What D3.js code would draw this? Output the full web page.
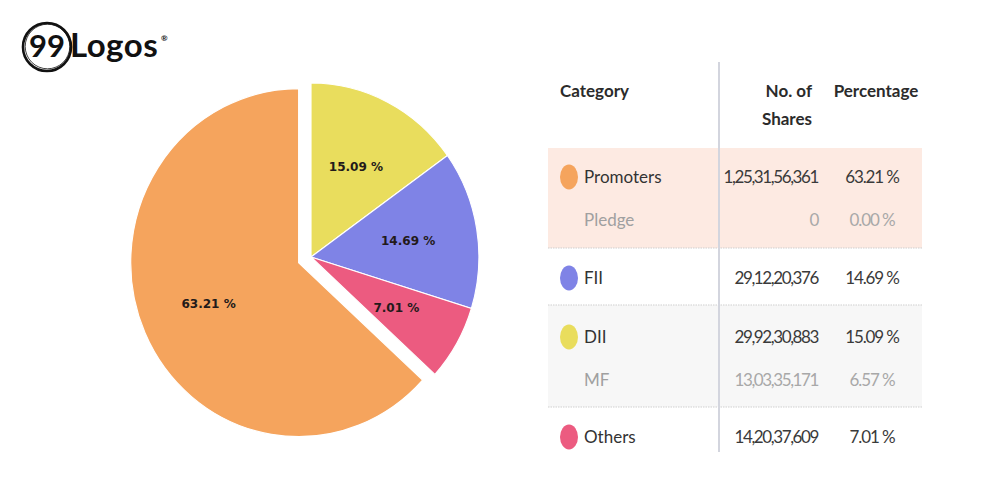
<!DOCTYPE html>
<html><head><meta charset="utf-8">
<script src="https://cdn.jsdelivr.net/npm/d3@7"></script>
<style>html,body{margin:0;padding:0;background:#fff;}svg{display:block;}</style>
</head><body>
<svg id="chart" width="1000" height="500"></svg>
<script>
// ---- data ----
const sliceNames = ["DII", "FII", "Others", "Promoters"];
const sliceValues = [15.09, 14.69, 7.01, 63.21];
const sliceColors = ["#E9DD5D", "#7F83E6", "#EC5B80", "#F5A45D"];
const explodedSlice = "Promoters";

const headerLabels = ["Category", "No. of", "Shares", "Percentage"];
const rowLabels = ["Promoters", "Pledge", "FII", "DII", "MF", "Others"];
const rowShares = ["1,25,31,56,361", "0", "29,12,20,376", "29,92,30,883", "13,03,35,171", "14,20,37,609"];
const rowPercents = [63.21, 0.00, 14.69, 15.09, 6.57, 7.01];
const rowIsSub = [false, true, false, false, true, false];
const rowColorKey = ["Promoters", null, "FII", "DII", null, "Others"];

// ---- drawing ----
const svg = d3.select("#chart");
const colorOf = d3.scaleOrdinal().domain(sliceNames).range(sliceColors);

// Logo
const logo = svg.append("g");
logo.append("circle").attr("cx", 47).attr("cy", 47).attr("r", 24)
  .attr("fill", "none").attr("stroke", "#111").attr("stroke-width", 2.6);
logo.append("circle").attr("cx", 47.5).attr("cy", 46.5).attr("r", 22.3)
  .attr("fill", "none").attr("stroke", "#111").attr("stroke-width", 0.8);
logo.append("text").attr("x", 47).attr("y", 57).attr("text-anchor", "middle")
  .attr("font-family", "Lato").attr("font-weight", 700).attr("font-size", 31)
  .attr("fill", "#111").text("99");
logo.append("text").attr("x", 70).attr("y", 57)
  .attr("font-family", "Lato").attr("font-weight", 700).attr("font-size", 33)
  .attr("letter-spacing", "0.5px").attr("fill", "#111").text("Logos");
logo.append("text").attr("x", 161).attr("y", 41)
  .attr("font-family", "Lato").attr("font-weight", 700).attr("font-size", 8)
  .attr("fill", "#111").text("®");

// Pie
const cx = 311, cy = 257, R = 174, explode = 14, labelR = 102;
const pie = d3.pie().sort(null).value(d => d.value).startAngle(0).endAngle(2 * Math.PI);
const arcs = pie(sliceNames.map((n, i) => ({ name: n, value: sliceValues[i] })));
const arc = d3.arc().innerRadius(0).outerRadius(R);
const labelArc = d3.arc().innerRadius(labelR).outerRadius(labelR);

const pg = svg.append("g").attr("transform", `translate(${cx},${cy}) scale(0.965,1)`);
function offset(d) {
  if (d.data.name !== explodedSlice) return [0, 0];
  const a = (d.startAngle + d.endAngle) / 2;
  return [Math.sin(a) * explode, -Math.cos(a) * explode];
}
const sg = pg.selectAll("g.slice").data(arcs).join("g").attr("class", "slice")
  .attr("transform", d => { const o = offset(d); return `translate(${o[0]},${o[1]})`; });
sg.append("path").attr("d", arc).attr("fill", d => colorOf(d.data.name))
  .attr("stroke", "#fff").attr("stroke-width", 1.2);
sg.append("text")
  .attr("transform", d => `translate(${labelArc.centroid(d)})`)
  .attr("text-anchor", "middle").attr("dy", "0.35em")
  .attr("font-family", "DejaVu Sans").attr("font-weight", 700).attr("font-size", 12.5)
  .attr("fill", "#231a1a")
  .text(d => d.data.value.toFixed(2) + " %");

// Table
const tx0 = 548, tx1 = 922, divX = 719;
const t = svg.append("g");
const groups = [[148, 248, "#FDEAE2"], [248, 305, "#FFFFFF"], [305, 407, "#F7F7F7"], [407, 452, "#FFFFFF"]];
t.selectAll("rect.grp").data(groups).join("rect").attr("class", "grp")
  .attr("x", tx0).attr("y", d => d[0]).attr("width", tx1 - tx0).attr("height", d => d[1] - d[0])
  .attr("fill", d => d[2]);
t.selectAll("line.sep").data([248, 305, 407]).join("line").attr("class", "sep")
  .attr("x1", tx0).attr("x2", tx1).attr("y1", d => d).attr("y2", d => d)
  .attr("stroke", "#cfcfcf").attr("stroke-width", 1).attr("stroke-dasharray", "1.5,1");
t.append("line").attr("x1", divX).attr("x2", divX).attr("y1", 62).attr("y2", 452)
  .attr("stroke", "#d3d5de").attr("stroke-width", 2);

const hdr = t.append("g").attr("font-family", "Lato").attr("font-weight", 700)
  .attr("font-size", 17).attr("fill", "#2b2b2b");
hdr.append("text").attr("x", 560).attr("y", 97).text(headerLabels[0]);
hdr.append("text").attr("x", 812).attr("y", 97).attr("text-anchor", "end").text(headerLabels[1]);
hdr.append("text").attr("x", 812).attr("y", 125).attr("text-anchor", "end").text(headerLabels[2]);
hdr.append("text").attr("x", 876).attr("y", 97).attr("text-anchor", "middle").text(headerLabels[3]);

const rowCenters = [177, 220, 278, 337, 380, 437];
const rows = t.selectAll("g.row").data(rowLabels.map((l, i) => ({
  label: l, shares: rowShares[i], pct: rowPercents[i], sub: rowIsSub[i], key: rowColorKey[i], y: rowCenters[i]
}))).join("g").attr("class", "row").attr("transform", d => `translate(0,${d.y})`);

rows.filter(d => d.key).append("ellipse").attr("cx", 569).attr("cy", 0).attr("rx", 9).attr("ry", 12.5)
  .attr("fill", d => colorOf(d.key));
rows.append("text").attr("x", 584).attr("dy", "0.36em")
  .attr("font-family", "Lato").attr("font-size", 17)
  .attr("fill", d => d.sub ? "#a0a0a0" : "#333").text(d => d.label);
rows.append("text").attr("x", 818).attr("dy", "0.36em").attr("text-anchor", "end")
  .attr("font-family", "Lato").attr("font-size", 17).attr("letter-spacing", "-1.4px")
  .attr("fill", d => d.sub ? "#a8a8a8" : "#3a3a3a").text(d => d.shares);
rows.append("text").attr("x", 872).attr("dy", "0.36em").attr("text-anchor", "middle")
  .attr("font-family", "Lato").attr("font-size", 17).attr("letter-spacing", "-1.1px")
  .attr("fill", d => d.sub ? "#a8a8a8" : "#3a3a3a").text(d => d.pct.toFixed(2) + " %");
</script>
</body></html>
